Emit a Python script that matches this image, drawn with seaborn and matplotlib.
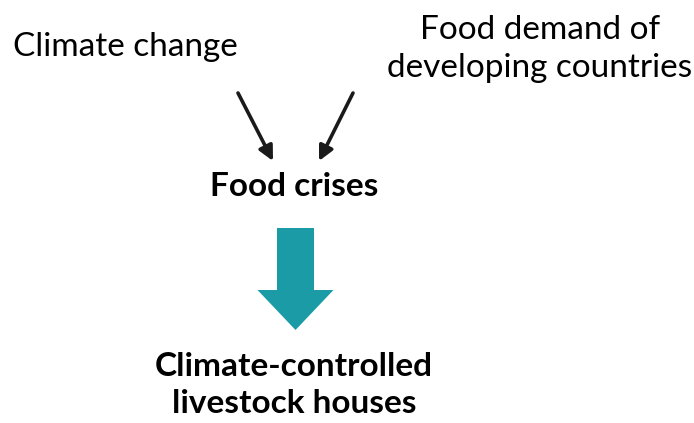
import matplotlib
matplotlib.use('Agg')
import matplotlib.pyplot as plt
import seaborn as sns
from matplotlib.patches import FancyArrow

sns.set_style('white')
plt.rcParams['font.family'] = ['Lato', 'DejaVu Sans']

# diagram content
causes = ['Climate change', 'Food demand of\ndeveloping countries']
crisis = 'Food crises'
result = 'Climate-controlled\nlivestock houses'

f, ax = plt.subplots(figsize=(6.94, 4.23), dpi=100)
f.subplots_adjust(0, 0, 1, 1)
ax.set_xlim(0, 694)
ax.set_ylim(423, 0)
ax.axis('off')

fs = 24
ax.text(125, 47, causes[0], ha='center', va='center', fontsize=fs, color='black')
ax.text(540, 49, causes[1], ha='center', va='center', fontsize=fs, color='black',
        linespacing=1.3)
ax.text(294, 186, crisis, ha='center', va='center', fontsize=fs, fontweight='bold',
        color='black')
ax.text(294, 385, result, ha='center', va='center', fontsize=fs, fontweight='bold',
        color='black', linespacing=1.35)

# thin black arrows
for (x0, y0), (x1, y1) in [((238, 93), (273, 161)), ((353, 93), (319, 161))]:
    ax.annotate('', xy=(x1, y1), xytext=(x0, y0),
                arrowprops=dict(arrowstyle='-|>', color='#1a1a1a', lw=2.6,
                                mutation_scale=22, shrinkA=0, shrinkB=0))

# big teal block arrow
ax.add_patch(FancyArrow(295.5, 228, 0, 102, width=37, head_width=76, head_length=40,
                        length_includes_head=True, color='#1a9ba6', lw=0))

plt.savefig('out.png', dpi=100)
